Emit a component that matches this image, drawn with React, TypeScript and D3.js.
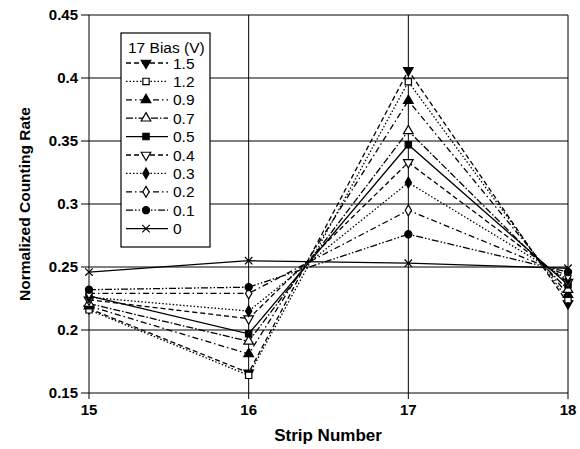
import React from "react";
import * as d3 from "d3";

const strips = [15, 16, 17, 18];
const yTicks = [0.15, 0.2, 0.25, 0.3, 0.35, 0.4, 0.45];
const yTickLabels = ["0.15", "0.2", "0.25", "0.3", "0.35", "0.4", "0.45"];
const biasLabels = ["1.5", "1.2", "0.9", "0.7", "0.5", "0.4", "0.3", "0.2", "0.1", "0"];

const v1_5 = [0.217, 0.166, 0.406, 0.221];
const v1_2 = [0.216, 0.164, 0.397, 0.224];
const v0_9 = [0.219, 0.181, 0.382, 0.228];
const v0_7 = [0.221, 0.191, 0.358, 0.232];
const v0_5 = [0.227, 0.197, 0.347, 0.236];
const v0_4 = [0.224, 0.209, 0.333, 0.238];
const v0_3 = [0.226, 0.215, 0.317, 0.240];
const v0_2 = [0.229, 0.229, 0.295, 0.243];
const v0_1 = [0.232, 0.234, 0.276, 0.246];
const v0 = [0.246, 0.255, 0.253, 0.249];

const seriesValues = [v1_5, v1_2, v0_9, v0_7, v0_5, v0_4, v0_3, v0_2, v0_1, v0];

type Style = { dash: string; sym: string; fill: boolean };
const styles: Style[] = [
  { dash: "5,3", sym: "tridown", fill: true },
  { dash: "1.5,2", sym: "square", fill: false },
  { dash: "6,3,1.5,3", sym: "triangle", fill: true },
  { dash: "7,2,1.5,2", sym: "triangle", fill: false },
  { dash: "", sym: "square", fill: true },
  { dash: "5,3", sym: "tridown", fill: false },
  { dash: "1.5,2", sym: "diamond", fill: true },
  { dash: "6,3,1.5,3", sym: "diamond", fill: false },
  { dash: "7,2,1.5,2,1.5,2", sym: "circle", fill: true },
  { dash: "", sym: "x", fill: false },
];

const W = 580;
const H = 449;
const left = 89;
const right = 568;
const top = 15;
const bottom = 393;

const symPath = (s: string): string => {
  const times: any = (d3 as any).symbolTimes || (d3 as any).symbolX;
  switch (s) {
    case "square":
      return d3.symbol(d3.symbolSquare, 40)() as string;
    case "triangle":
      return d3.symbol(d3.symbolTriangle, 40)() as string;
    case "tridown":
      return d3.symbol(d3.symbolTriangle, 40)() as string;
    case "diamond":
      return d3.symbol(d3.symbolDiamond, 34)() as string;
    case "circle":
      return d3.symbol(d3.symbolCircle, 40)() as string;
    default:
      return d3.symbol(times, 38)() as string;
  }
};

function Marker({ x, y, st }: { x: number; y: number; st: Style }) {
  const rot = st.sym === "tridown" ? " rotate(180)" : "";
  return (
    <path
      d={symPath(st.sym)}
      transform={`translate(${x},${y})${rot}`}
      fill={st.sym === "x" ? "none" : st.fill ? "#000" : "#fff"}
      stroke="#000"
      strokeWidth={1.2}
    />
  );
}

export default function App() {
  const x = d3.scaleLinear().domain([15, 18]).range([left, right]);
  const y = d3.scaleLinear().domain([0.15, 0.45]).range([bottom, top]);
  const line = d3
    .line<number>()
    .x((_, i) => x(strips[i]))
    .y((d) => y(d));

  const font = "'Liberation Sans', Arial, sans-serif";
  const lgX = 121;
  const lgY = 33;
  const lgW = 89;
  const lgH = 214;
  const rowY = (i: number) => lgY + 30 + i * 18.4;

  return (
    <svg
      width={W}
      height={H}
      style={{ position: "absolute", left: 0, top: 0, background: "#fff" }}
      fontFamily={font}
    >
      <rect x={0} y={0} width={W} height={H} fill="#fff" />
      {/* grid */}
      {yTicks.map((t) => (
        <line key={"g" + t} x1={left} x2={right} y1={y(t)} y2={y(t)} stroke="#000" strokeWidth={1} />
      ))}
      {strips.map((s) => (
        <line key={"v" + s} x1={x(s)} x2={x(s)} y1={top} y2={bottom + 6} stroke="#000" strokeWidth={1} />
      ))}
      {/* y ticks */}
      {yTicks.map((t, i) => (
        <g key={"yt" + t}>
          <line x1={left - 8} x2={left} y1={y(t)} y2={y(t)} stroke="#000" />
          <text
            x={left - 11}
            y={y(t)}
            dy="0.35em"
            textAnchor="end"
            fontSize={15}
            fontWeight="bold"
          >
            {yTickLabels[i]}
          </text>
        </g>
      ))}
      {/* x tick labels */}
      {strips.map((s) => (
        <text key={"xt" + s} x={x(s)} y={bottom + 22} textAnchor="middle" fontSize={15} fontWeight="bold">
          {s}
        </text>
      ))}
      {/* axis titles */}
      <text x={328} y={441} textAnchor="middle" fontSize={17} fontWeight="bold">
        Strip Number
      </text>
      <text
        transform={`translate(30,${(top + bottom) / 2}) rotate(-90)`}
        textAnchor="middle"
        fontSize={15.5}
        fontWeight="bold"
      >
        Normalized Counting Rate
      </text>
      {/* series */}
      {seriesValues.map((vals, k) => (
        <path
          key={"l" + k}
          d={line(vals) as string}
          fill="none"
          stroke="#000"
          strokeWidth={1.3}
          strokeDasharray={styles[k].dash || undefined}
        />
      ))}
      {seriesValues.map((vals, k) =>
        vals.map((v, i) => <Marker key={"m" + k + "-" + i} x={x(strips[i])} y={y(v)} st={styles[k]} />)
      )}
      {/* legend */}
      <rect x={lgX} y={lgY} width={lgW} height={lgH} fill="#fff" stroke="#000" strokeWidth={1.2} />
      <text x={lgX + 7} y={lgY + 20} fontSize={15.5}>
        17 Bias (V)
      </text>
      {biasLabels.map((b, i) => (
        <g key={"lg" + i}>
          <line
            x1={lgX + 5}
            x2={lgX + 47}
            y1={rowY(i)}
            y2={rowY(i)}
            stroke="#000"
            strokeWidth={1.3}
            strokeDasharray={styles[i].dash || undefined}
          />
          <Marker x={lgX + 25} y={rowY(i)} st={styles[i]} />
          <text x={lgX + 52} y={rowY(i)} dy="0.36em" fontSize={15.5}>
            {b}
          </text>
        </g>
      ))}
    </svg>
  );
}
